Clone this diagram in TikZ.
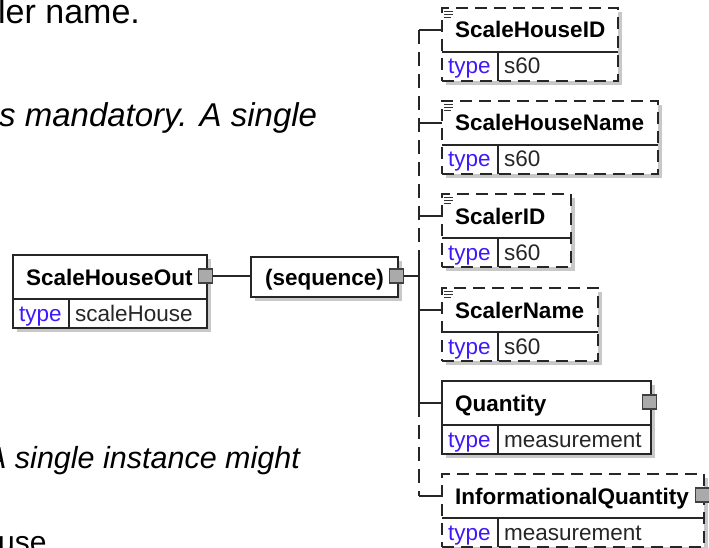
\documentclass[tikz,border=0pt]{standalone}
\usepackage{fontspec}
\setmainfont{Liberation Sans}
\usetikzlibrary{calc}
\definecolor{typec}{RGB}{64,24,250}
\definecolor{shadc}{RGB}{200,200,200}
\definecolor{sqc}{RGB}{170,170,170}
\tikzset{
 elbox/.style={draw=black!85, line width=1.3pt, fill=white, inner sep=0pt, outer sep=0pt, anchor=north west},
 optbox/.style={elbox, dash pattern=on 12pt off 7pt},
 divl/.style={draw=black!85, line width=1.1pt},
 conn/.style={draw=black!85, line width=1.3pt},
 optconn/.style={conn, dash pattern=on 14pt off 8pt},
 sqr/.style={draw=black!75, fill=sqc, line width=1.2pt, minimum size=14pt, inner sep=0pt, outer sep=0pt},
 nm/.style={font=\fontsize{22.5}{27}\selectfont\bfseries, inner sep=0pt, anchor=base west},
 tp/.style={font=\fontsize{22.5}{27}\selectfont, text=typec, inner sep=0pt, anchor=base west},
 vl/.style={font=\fontsize{22.5}{27}\selectfont, text=black!85, inner sep=0pt, anchor=base west},
 body/.style={inner sep=0pt, anchor=base west},
 shad/.style={fill=shadc, draw=none},
 docl/.style={draw=black!80, line width=0.9pt},
}
\newcommand{\xsdelem}[7]{% id, x, y, w, style, name, type
 \fill[shad] (#2+4,#3+4) rectangle (#2+#4+4,#3+77);
 \node[#5, minimum width=#4pt, minimum height=73pt] (#1box) at (#2,#3) {};
 \coordinate (#1) at (#2,#3+22);
 \draw[divl] (#2,#3+44) -- (#2+#4,#3+44);
 \draw[divl] (#2+56,#3+44) -- (#2+56,#3+73);
 \node[nm] (#1name) at (#2+13,#3+30) {#6};
 \node[tp] (#1tp) at (#2+6,#3+66) {type};
 \node[vl] (#1val) at (#2+62,#3+66) {#7};
}
\newcommand{\xsddoc}[2]{%
 \draw[docl] (#1+2,#2+3) -- (#1+11,#2+3);
 \draw[docl] (#1+2,#2+6) -- (#1+11,#2+6);
 \draw[docl] (#1+2,#2+9) -- (#1+9,#2+9);
}
\begin{document}
\begin{tikzpicture}[x=1pt,y=-1pt]
\useasboundingbox (0,0) rectangle (709,548);
\clip (0,0) rectangle (709,548);
\fill[white] (0,0) rectangle (709,548);

% body text
\node[body, font=\fontsize{34}{40}\selectfont] (t1) at (-2,24) {ler name.};
\node[body, font=\fontsize{33}{40}\selectfont\itshape] (t2) at (-1,127) {s mandatory. A single};
\node[body, font=\fontsize{30.5}{36}\selectfont\itshape] (t3) at (-14,468) {A single instance might};
\node[body, font=\fontsize{30}{36}\selectfont] (t4) at (-2,552) {use};

% root element
\xsdelem{sho}{13}{255}{194}{elbox}{ScaleHouseOut}{scaleHouse}
\node[sqr] (sqA) at (205.5,276) {};

% sequence
\fill[shad] (255,261) rectangle (402,301);
\node[elbox, minimum width=147pt, minimum height=40pt] (seq) at (251,257) {};
\node[nm] (seqtxt) at (265,285) {(sequence)};
\node[sqr] (sqB) at (396.5,276) {};

% children
\xsdelem{shid}{442}{8}{176}{optbox}{ScaleHouseID}{s60}
\xsddoc{442}{8}
\xsdelem{shn}{442}{101}{216}{optbox}{ScaleHouseName}{s60}
\xsddoc{442}{101}
\xsdelem{sid}{442}{194}{129}{optbox}{ScalerID}{s60}
\xsddoc{442}{194}
\xsdelem{sn}{442}{288}{156}{optbox}{ScalerName}{s60}
\xsddoc{442}{288}
\xsdelem{qty}{442}{381}{209}{elbox}{Quantity}{measurement}
\node[sqr] (sqQ) at (649.5,402) {};
\xsdelem{iq}{442}{474}{262}{optbox}{InformationalQuantity}{measurement}
\node[sqr] (sqI) at (702.5,495) {};

% connectors
\draw[conn] (sqA.east) -- (sqA.east -| seq.west);
\coordinate (vx) at (419,276);
\coordinate (vs) at (419,253);
\draw[conn] (sqB.east) -- (vx);
\draw[optconn] (vx |- shid) -- (vs);
\draw[conn] (vs) -- (vx |- qty);
\draw[optconn] (vx |- qty) -- (vx |- iq);
\foreach \e in {shid,shn,sid,sn,qty,iq} \draw[conn] (vx |- \e) -- (\e);
\end{tikzpicture}
\end{document}
